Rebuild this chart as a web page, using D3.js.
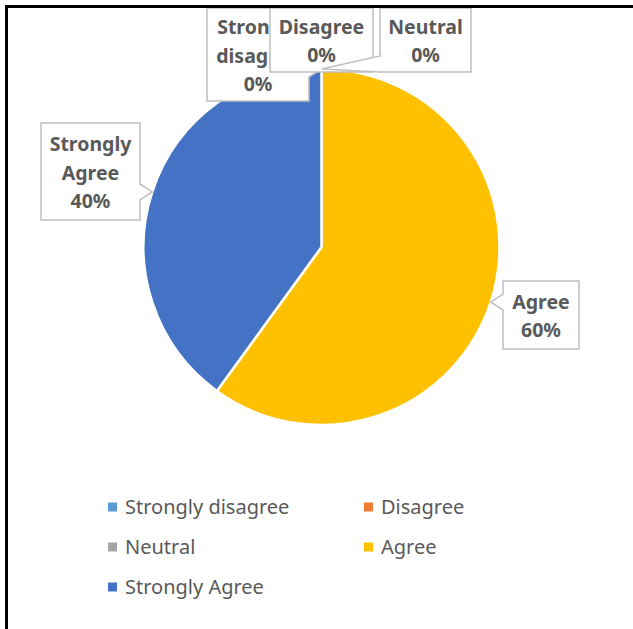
<!DOCTYPE html>
<html>
<head>
<meta http-equiv="Content-Type" content="text/html; charset=utf-8">
<script src="https://cdnjs.cloudflare.com/ajax/libs/d3/7.8.5/d3.min.js"></script>
<style>
  body { margin: 0; background: #fff; }
  svg { display: block; font-family: "Noto Sans", "Open Sans", sans-serif; }
</style>
</head>
<body>
<div id="chart"></div>
<script>
// ---------------- data
var categories = ["Strongly disagree", "Disagree", "Neutral", "Agree", "Strongly Agree"];
var values = [0, 0, 0, 60, 40];
var colors = ["#5B9BD5", "#ED7D31", "#A5A5A5", "#FFC000", "#4472C4"];
var percentLabels = ["0%", "0%", "0%", "60%", "40%"];
// label text lines (word-wrapped as in the original)
var labelLines = [["Strongly", "disagree"], ["Disagree"], ["Neutral"], ["Agree"], ["Strongly", "Agree"]];

// ---------------- layout
var width = 633, height = 629;
var cx = 321.5, cy = 247, radius = 178;
// callout boxes [x, y, w, h]
var labelBoxes = [
  [207, 8, 102, 93],
  [270, 8, 103, 64],
  [380, 8, 91, 64],
  [503, 281, 76, 68],
  [41, 123, 99, 97]
];

var svg = d3.select("#chart").append("svg")
  .attr("width", width)
  .attr("height", height);

svg.append("rect").attr("width", width).attr("height", height).attr("fill", "#fff");

var pie = d3.pie().sort(null).value(function(d){ return d; });
var arcs = pie(values);
var arc = d3.arc().innerRadius(0).outerRadius(radius);

var g = svg.append("g").attr("transform", "translate(" + cx + "," + cy + ")");

g.selectAll("path")
  .data(arcs)
  .enter()
  .append("path")
  .attr("d", arc)
  .attr("fill", function(d, i){ return colors[i]; })
  .attr("stroke", "#fff")
  .attr("stroke-width", 2.5)
  .attr("stroke-linejoin", "round");

// ---------------- callouts
function calloutPath(b, ax, ay) {
  var x0 = b[0], y0 = b[1], x1 = b[0] + b[2], y1 = b[1] + b[3];
  var hw = 8;
  function clamp(v, lo, hi){ return Math.max(lo, Math.min(hi, v)); }
  if (ax < x0) {
    var c = clamp(ay, y0 + hw, y1 - hw);
    return "M" + x0 + "," + y0 + "H" + x1 + "V" + y1 + "H" + x0 +
      "V" + (c + hw) + "L" + ax + "," + ay + "L" + x0 + "," + (c - hw) + "Z";
  }
  if (ax > x1) {
    var c2 = clamp(ay, y0 + hw, y1 - hw);
    return "M" + x0 + "," + y0 + "H" + x1 + "V" + (c2 - hw) + "L" + ax + "," + ay +
      "L" + x1 + "," + (c2 + hw) + "V" + y1 + "H" + x0 + "Z";
  }
  if (ay > y1) {
    var c3 = clamp(ax, x0 + hw, x1 - hw);
    return "M" + x0 + "," + y0 + "H" + x1 + "V" + y1 + "H" + (c3 + hw) +
      "L" + ax + "," + ay + "L" + (c3 - hw) + "," + y1 + "H" + x0 + "Z";
  }
  return "M" + x0 + "," + y0 + "H" + x1 + "V" + y1 + "H" + x0 + "Z";
}

var labels = svg.append("g");

arcs.forEach(function(d, i) {
  var mid = (d.startAngle + d.endAngle) / 2;
  var ax = cx + radius * Math.sin(mid);
  var ay = cy - radius * Math.cos(mid);
  var b = labelBoxes[i];
  var lg = labels.append("g");
  lg.append("path")
    .attr("d", calloutPath(b, ax, ay))
    .attr("fill", "#fff")
    .attr("stroke", "#BFBFBF")
    .attr("stroke-width", 1.5);
  var lines = labelLines[i].concat([percentLabels[i]]);
  var lh = 28.5;
  var startY = b[1] + b[3] / 2 - (lines.length - 1) * lh / 2 + 8;
  lg.append("text")
    .attr("text-anchor", "middle")
    .attr("font-weight", "bold")
    .attr("font-size", "19.5px")
    .attr("fill", "#595959")
    .selectAll("tspan")
    .data(lines)
    .enter()
    .append("tspan")
    .attr("x", b[0] + b[2] / 2)
    .attr("y", function(t, j){ return startY + j * lh; })
    .text(function(t){ return t; });
});

// ---------------- legend
var legendCols = [108, 364];
var legendRows = [507, 547, 587];
var legend = svg.append("g");
categories.forEach(function(c, i) {
  var lx = legendCols[i % 2], ly = legendRows[Math.floor(i / 2)];
  legend.append("rect")
    .attr("x", lx).attr("y", ly - 4.5)
    .attr("width", 9).attr("height", 9)
    .attr("fill", colors[i]);
  legend.append("text")
    .attr("x", lx + 17).attr("y", ly + 7)
    .attr("font-size", "20px")
    .attr("fill", "#595959")
    .text(c);
});

// ---------------- frame (top and left edges)
svg.append("line").attr("x1", 5).attr("x2", width).attr("y1", 6.5).attr("y2", 6.5)
  .attr("stroke", "#000").attr("stroke-width", 3);
svg.append("line").attr("x1", 6.5).attr("x2", 6.5).attr("y1", 5).attr("y2", height)
  .attr("stroke", "#000").attr("stroke-width", 3);
</script>
</body>
</html>
